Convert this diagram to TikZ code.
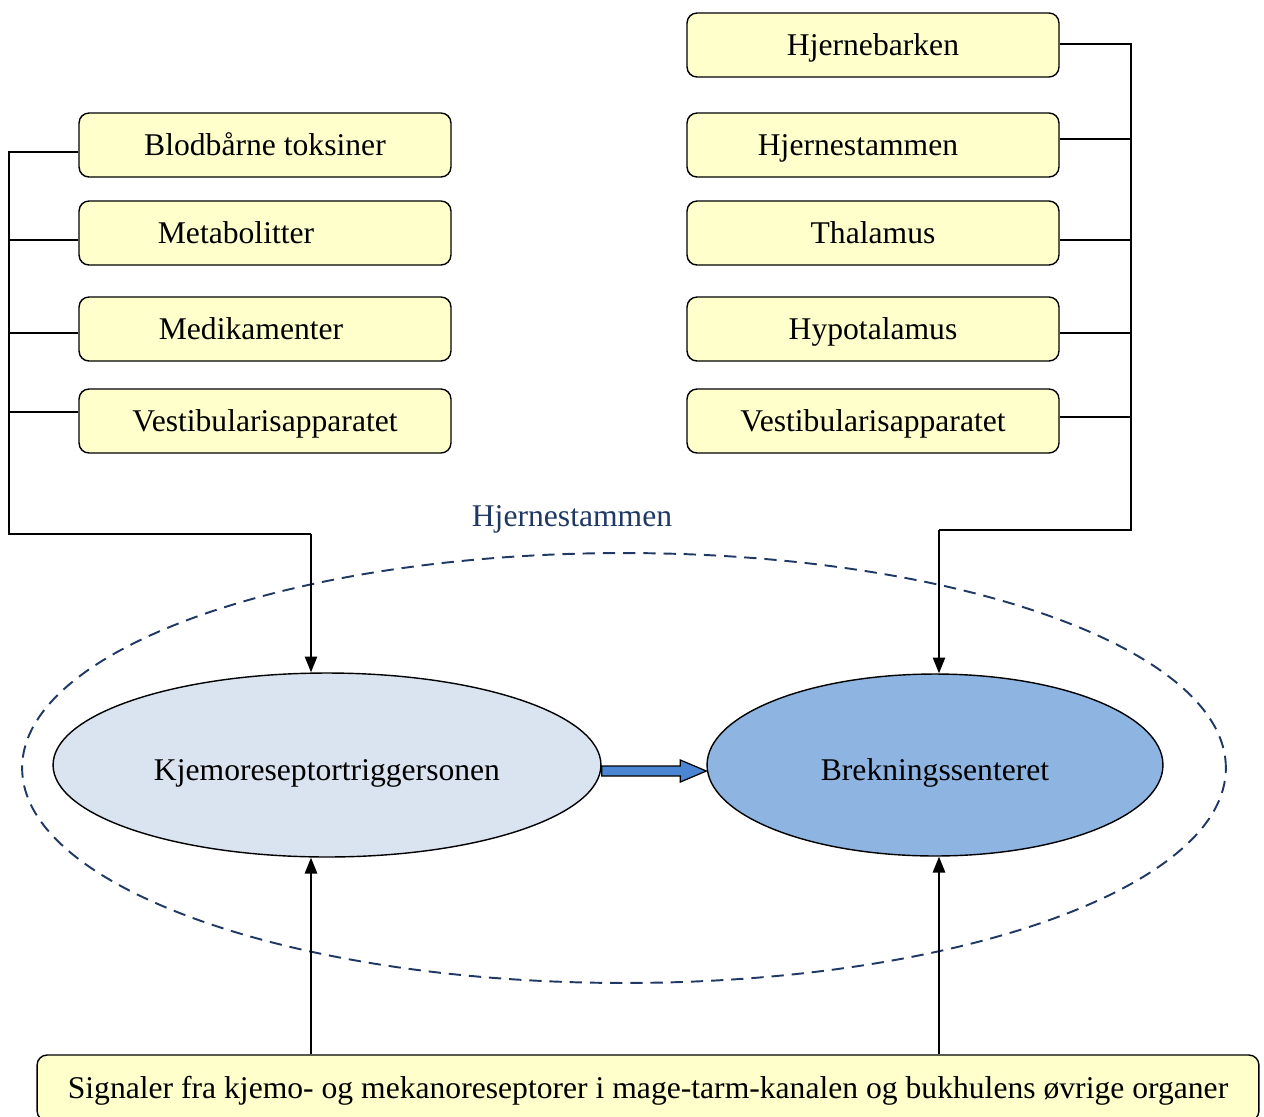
\documentclass[tikz,border=0pt]{standalone}
\usepackage{fontspec}
\setmainfont{Liberation Serif}
\usetikzlibrary{shapes.geometric,arrows.meta,calc,positioning}
\definecolor{boxyellow}{HTML}{FFFFCC}
\definecolor{ktsblue}{HTML}{DAE3F0}
\definecolor{senterblue}{HTML}{8EB4E2}
\definecolor{stemnavy}{HTML}{1F3864}
\definecolor{arrowblue}{HTML}{4A86D4}

\begin{document}
\begin{tikzpicture}[x=0.02cm,y=-0.02cm,
  kilde/.style={draw,rounded corners=0.2cm,fill=boxyellow,line width=0.8pt,
    minimum width=7.44cm,minimum height=1.28cm,text height=16pt,text depth=4pt,
    font=\fontsize{18}{21}\selectfont},
  senter/.style={ellipse,draw,line width=0.8pt,inner sep=0pt,text height=21.5pt,text depth=4pt,
    font=\fontsize{18}{21}\selectfont},
  tilkobling/.style={line width=1pt},
  pil/.style={line width=1pt,-{Triangle[length=9pt,width=7pt]}}]
\useasboundingbox (0,0) rectangle (1264,1116);

% Stimuli via blodet
\node[kilde] (blod) at (265,145) {Blodbårne toksiner};
\node[kilde] (meta) at (265,233) {\hspace*{-1.16cm}Metabolitter};
\node[kilde] (medi) at (265,329) {\hspace*{-0.56cm}Medikamenter};
\node[kilde] (vestv) at (265,421) {Vestibularisapparatet};

% Stimuli fra hjernen
\node[kilde] (hbark) at (873,45) {Hjernebarken};
\node[kilde] (hstam) at (873,145) {\hspace*{-0.6cm}Hjernestammen};
\node[kilde] (thal) at (873,233) {Thalamus};
\node[kilde] (hypo) at (873,329) {Hypotalamus};
\node[kilde] (vesth) at (873,421) {Vestibularisapparatet};

% Hjernestammen
\node[ellipse,draw=stemnavy,line width=1.1pt,dash pattern=on 7pt off 4.5pt,
  minimum width=24.08cm,minimum height=8.6cm] (stem) at (624,768) {};
\node[text=stemnavy,font=\fontsize{18}{21}\selectfont] (stemlabel) at (572,519) {Hjernestammen};
\node[senter,fill=ktsblue,minimum width=10.96cm,minimum height=3.68cm] (kts) at (327,765) {Kjemoreseptortriggersonen};
\node[senter,fill=senterblue,minimum width=9.12cm,minimum height=3.64cm] (brek) at (935,765) {Brekningssenteret};

% Signaler fra bukorganene
\node[kilde,minimum width=24.44cm,minimum height=1.32cm] (signal) at (648,1088)
  {Signaler fra kjemo- og mekanoreseptorer i mage-tarm-kanalen og bukhulens øvrige organer};

% Venstre samleskinne
\coordinate (lbar) at (9,534);
\coordinate (lfot) at (311,534);
\draw[tilkobling] ($(blod.west)+(0,7)$) -| (lbar) -- (lfot);
\draw[tilkobling] ($(meta.west)+(0,7)$) -- ++(-70,0);
\draw[tilkobling] ($(medi.west)+(0,4)$) -- ++(-70,0);
\draw[tilkobling] ($(vestv.west)+(0,-9)$) -- ++(-70,0);
\draw[pil] (lfot) -- (lfot |- kts.north);

% Hoyre samleskinne
\coordinate (rbar) at (1131,530);
\coordinate (rfot) at (939,530);
\draw[tilkobling] ($(hbark.east)+(0,-1)$) -| (rbar) -- (rfot);
\draw[tilkobling] ($(hstam.east)+(0,-6)$) -- ++(72,0);
\draw[tilkobling] ($(thal.east)+(0,7)$) -- ++(72,0);
\draw[tilkobling] ($(hypo.east)+(0,4)$) -- ++(72,0);
\draw[tilkobling] ($(vesth.east)+(0,-4)$) -- ++(72,0);
\draw[pil] (rfot) -- (rfot |- brek.north);

% Fra bukorganene
\draw[pil] (signal.north -| lfot) -- (lfot |- kts.south);
\draw[pil] (signal.north -| rfot) -- (rfot |- brek.south);

% Blokkpil
\draw[fill=arrowblue,line width=0.7pt] ($(kts.east)+(0,1)$) -- ($(brek.west)+(-26,1)$)
  -- ($(brek.west)+(-26,-5)$) -- ($(brek.west)+(0,6)$) -- ($(brek.west)+(-26,17)$)
  -- ($(brek.west)+(-26,11)$) -- ($(kts.east)+(0,11)$) -- cycle;
\end{tikzpicture}
\end{document}
